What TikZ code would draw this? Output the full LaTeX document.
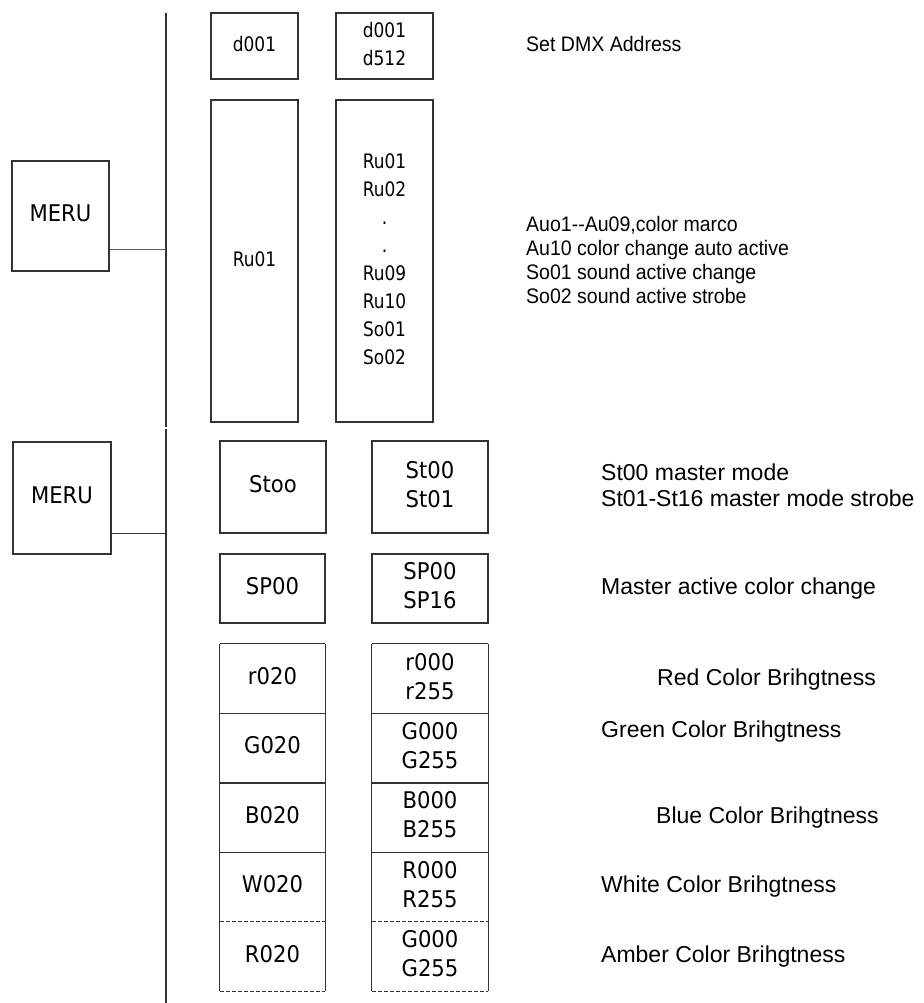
\documentclass[tikz,border=0pt]{standalone}
\usepackage{fontspec}
\usepackage{graphicx}
\setmainfont{Liberation Sans}
\newfontfamily\segfont{DejaVu Sans}
\newcommand{\segU}[1]{{\segfont\fontsize{20}{28}\selectfont\scalebox{0.85}[1]{\begin{tabular}{@{}c@{}}#1\end{tabular}}}}
\newcommand{\segL}[1]{{\segfont\fontsize{23}{29}\selectfont\scalebox{0.92}[1]{\begin{tabular}{@{}c@{}}#1\end{tabular}}}}
\newcommand{\descU}[1]{{\fontsize{21}{24}\selectfont\scalebox{0.93}[1]{\begin{tabular}[t]{@{}l@{}}#1\end{tabular}}}}
\newcommand{\descL}[1]{{\fontsize{23}{26}\selectfont\begin{tabular}[t]{@{}l@{}}#1\end{tabular}}}
\begin{document}
\begin{tikzpicture}[x=1pt,y=-1pt,
  frame/.style={draw=black!80,line width=1.2pt},
  box/.style={frame,inner sep=0pt},
  cell/.style={inner sep=0pt},
  dashline/.style={dash pattern=on 4pt off 2pt},
  desc/.style={anchor=base west,inner sep=0pt}]
\useasboundingbox (0,0) rectangle (923,1003);

% vertical bus lines
\coordinate (v1) at (166,13);
\coordinate (v2) at (166,427);
\coordinate (v3) at (166,429);
\coordinate (v4) at (166,1003);
\draw[frame,line width=1.4pt] (v1) -- (v2);
\draw[frame,line width=1.4pt] (v3) -- (v4);

% upper part
\node[box,minimum width=97pt,minimum height=110pt] (m1) at (60.5,216) {\segL{MERU}};
\node[box,minimum width=87pt,minimum height=66pt] (d1) at (254.5,46) {\segU{d001}};
\node[box,minimum width=97pt,minimum height=66pt] (d2) at (384.5,46) {\segU{d001\\d512}};
\node[box,minimum width=87pt,minimum height=322pt] (a1) at (254.5,261) {\segU{Ru01}};
\node[box,minimum width=97pt,minimum height=322pt] (a2) at (384.5,261) {\segU{Ru01\\Ru02\\.\\.\\Ru09\\Ru10\\So01\\So02}};
\path ([yshift=22pt]m1.south east) coordinate (c1);
\draw[frame,draw=black!65] (c1) -- (c1 -| v1);

% lower part
\node[box,minimum width=98pt,minimum height=112pt] (m2) at (62,498) {\segL{MERU}};
\path ([yshift=21pt]m2.south east) coordinate (c2);
\draw[frame] (c2) -- (c2 -| v3);

\node[box,minimum width=106pt,minimum height=92pt] (s1) at (273,487) {\segL{Stoo}};
\node[box,minimum width=116pt,minimum height=92pt] (s2) at (430,487) {\segL{St00\\St01}};
\node[box,minimum width=105pt,minimum height=69pt] (p1) at (272.5,588.5) {\segL{SP00}};
\node[box,minimum width=116pt,minimum height=69pt] (p2) at (430,588.5) {\segL{SP00\\SP16}};

% stacked colour cells
\node[cell,minimum width=105pt,minimum height=69.4pt] (l1) at (272.5,678.7) {\segL{r020}};
\node[cell,minimum width=105pt,minimum height=69.4pt] (l2) at (272.5,748.1) {\segL{G020}};
\node[cell,minimum width=105pt,minimum height=69.4pt] (l3) at (272.5,817.5) {\segL{B020}};
\node[cell,minimum width=105pt,minimum height=69.4pt] (l4) at (272.5,886.9) {\segL{W020}};
\node[cell,minimum width=105pt,minimum height=69.4pt] (l5) at (272.5,956.3) {\segL{R020}};
\node[cell,minimum width=116pt,minimum height=69.4pt] (r1) at (430,678.7) {\segL{r000\\r255}};
\node[cell,minimum width=116pt,minimum height=69.4pt] (r2) at (430,748.1) {\segL{G000\\G255}};
\node[cell,minimum width=116pt,minimum height=69.4pt] (r3) at (430,817.5) {\segL{B000\\B255}};
\node[cell,minimum width=116pt,minimum height=69.4pt] (r4) at (430,886.9) {\segL{R000\\R255}};
\node[cell,minimum width=116pt,minimum height=69.4pt] (r5) at (430,956.3) {\segL{G000\\G255}};
\foreach \c in {l,r}{
  \draw[frame] (\c1.north west) -- (\c5.south west) (\c1.north east) -- (\c5.south east);
  \draw[frame] (\c1.north west) -- (\c1.north east)
               (\c1.south west) -- (\c1.south east)
               (\c2.south west) -- (\c2.south east)
               (\c3.south west) -- (\c3.south east);
  \draw[frame,dashline] (\c4.south west) -- (\c4.south east)
               (\c5.south west) -- (\c5.south east);
}

% descriptions
\node[desc] (t1) at (526,52) {\descU{Set DMX Address}};
\node[desc] (t2) at (526,231) {\descU{Auo1-{}-Au09,color marco\\Au10 color change auto active\\So01 sound active change\\So02 sound active strobe}};
\node[desc] (t3) at (601,480) {\descL{St00 master mode\\St01-St16 master mode strobe}};
\node[desc] (t4) at (601,594) {\descL{Master active color change}};
\node[desc] (t5) at (657,685) {\descL{Red Color Brihgtness}};
\node[desc] (t6) at (601,737) {\descL{Green Color Brihgtness}};
\node[desc] (t7) at (656,823) {\descL{Blue Color Brihgtness}};
\node[desc] (t8) at (601,892) {\descL{White Color Brihgtness}};
\node[desc] (t9) at (601,962) {\descL{Amber Color Brihgtness}};
\end{tikzpicture}
\end{document}
